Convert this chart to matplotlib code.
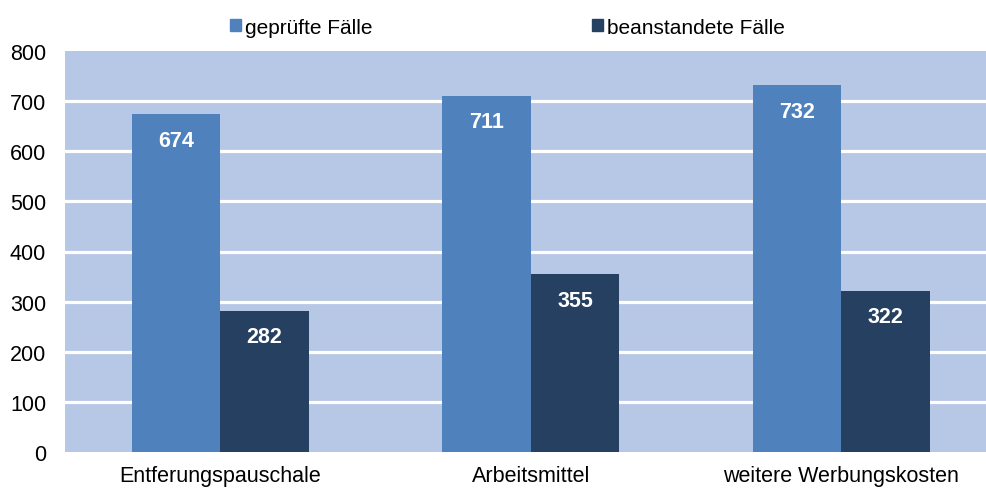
import matplotlib
matplotlib.use("Agg")
import matplotlib.pyplot as plt
from matplotlib.patches import Patch
import numpy as np

plt.rcParams['font.family'] = ['Liberation Sans', 'DejaVu Sans']

categories = ["Entferungspauschale", "Arbeitsmittel", "weitere Werbungskosten"]
series_names = ["geprüfte Fälle", "beanstandete Fälle"]
geprueft = [674, 711, 732]
beanstandet = [282, 355, 322]
y_ticks = [0, 100, 200, 300, 400, 500, 600, 700, 800]

c_light = "#4F81BD"
c_dark = "#254061"
c_bg = "#B7C7E6"

W, H = 987, 489
fig = plt.figure(figsize=(W / 100, H / 100), dpi=100)
left_px, right_px, top_px, bot_px = 65, 987, 52, 453
ax = fig.add_axes([left_px / W, 1 - bot_px / H,
                   (right_px - left_px) / W, (bot_px - top_px) / H])
ax.set_facecolor(c_bg)

x = np.arange(len(categories))
bw = 0.285
b1 = ax.bar(x - bw / 2, geprueft, bw, color=c_light, zorder=3)
b2 = ax.bar(x + bw / 2, beanstandet, bw, color=c_dark, zorder=3)

for bars, vals in ((b1, geprueft), (b2, beanstandet)):
    for rect, v in zip(bars, vals):
        ax.annotate(str(v), (rect.get_x() + rect.get_width() / 2, v),
                    xytext=(0, -26), textcoords="offset pixels",
                    ha="center", va="center", color="white",
                    fontsize=15.5, fontweight="bold", zorder=4)

ax.set_ylim(0, 800)
ax.set_yticks(y_ticks)
for t in y_ticks[1:-1]:
    ax.axhline(t, color="white", lw=2.3, zorder=1)
ax.set_xlim(-0.5, -0.5 + (right_px - left_px) / 310.5)
ax.set_xticks(x)
ax.set_xticklabels(categories)
ax.tick_params(axis="both", length=0, labelsize=15.5, colors="black")
ax.tick_params(axis="x", pad=9.5)
ax.tick_params(axis="y", pad=13.5)
for s in ax.spines.values():
    s.set_visible(False)

# legend entries placed individually at the top
for name, col, xpx in ((series_names[0], c_light, 230), (series_names[1], c_dark, 592)):
    fig.legend([Patch(color=col)], [name], loc="center left",
               bbox_to_anchor=(xpx / W, 1 - 28 / H), frameon=False, fontsize=15,
               handlelength=0.55, handleheight=0.55, handletextpad=0.15,
               borderpad=0, borderaxespad=0)

fig.savefig("out.png", dpi=100)
